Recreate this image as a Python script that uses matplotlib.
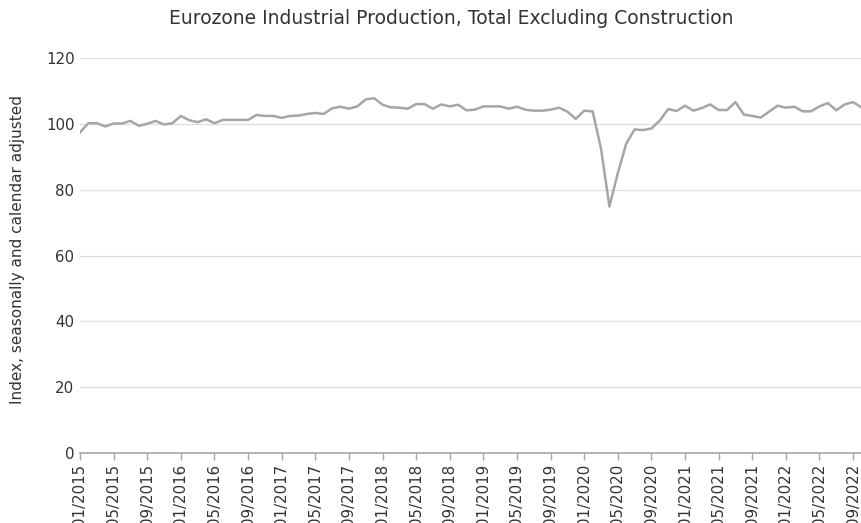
import matplotlib
matplotlib.use("Agg")
import matplotlib.pyplot as plt
import pandas as pd

# Monthly index values, 01/2015 .. 10/2022
values = [
    97.4, 100.2, 100.2, 99.2, 100.1, 100.1, 100.9, 99.4, 100.0, 100.9, 99.8, 100.2,   # 2015
    102.4, 101.1, 100.5, 101.4, 100.2, 101.2, 101.2, 101.2, 101.2, 102.7, 102.4, 102.4,  # 2016
    101.8, 102.4, 102.5, 103.0, 103.3, 103.0, 104.7, 105.2, 104.6, 105.3, 107.4, 107.8,  # 2017
    105.8, 105.0, 104.9, 104.6, 106.0, 106.0, 104.6, 105.9, 105.3, 105.8, 104.1, 104.3,  # 2018
    105.3, 105.3, 105.3, 104.6, 105.2, 104.3, 104.0, 104.0, 104.3, 104.9, 103.7, 101.5,  # 2019
    104.0, 103.8, 92.5, 74.9, 85.0, 94.0, 98.3, 98.1, 98.6, 101.0, 104.5, 103.9,         # 2020
    105.5, 104.0, 104.8, 105.9, 104.2, 104.2, 106.6, 102.8, 102.4, 101.9, 103.7, 105.5,  # 2021
    104.9, 105.2, 103.8, 103.8, 105.3, 106.3, 104.1, 105.9, 106.6, 105.0,                # 2022
]
months = pd.date_range("2015-01-01", periods=len(values), freq="MS")
tick_labels = [m.strftime("%m/%Y") for m in months[::4]]
yticks = [0, 20, 40, 60, 80, 100, 120]

title = "Eurozone Industrial Production, Total Excluding Construction"
ylabel = "Index, seasonally and calendar adjusted"

W, H = 862, 523
fig = plt.figure(figsize=(W / 100, H / 100), dpi=100)
ax = fig.add_axes([80 / W, (H - 453) / H, (861.5 - 80) / W, (453 - 58) / H])

x = list(range(len(values)))
ax.plot(x, values, color="#a6a6a6", linewidth=1.8, solid_joinstyle="round", zorder=3)

ax.set_xlim(0, len(values) - 1)
ax.set_ylim(0, 120)
ax.set_yticks(yticks)
ax.yaxis.grid(True, color="#dedede", linewidth=0.9)
ax.set_axisbelow(True)

ax.set_xticks(x[::4])
ax.set_xticklabels(tick_labels, rotation=90, fontsize=10.8, color="#333333")
ax.tick_params(axis="x", length=5, width=1, color="#a6a6a6", pad=3)
ax.tick_params(axis="y", length=0, labelsize=10.8, labelcolor="#333333", pad=4)

for s in ["top", "right", "left"]:
    ax.spines[s].set_visible(False)
ax.spines["bottom"].set_color("#a6a6a6")
ax.spines["bottom"].set_linewidth(1.2)

fig.text(451 / W, 1 - 18 / H, title, ha="center", va="center", fontsize=13.5, color="#333333")
fig.text(18 / W, 1 - 249 / H, ylabel, ha="center", va="center", rotation=90, fontsize=11, color="#333333")

fig.savefig("out.png", dpi=100)
